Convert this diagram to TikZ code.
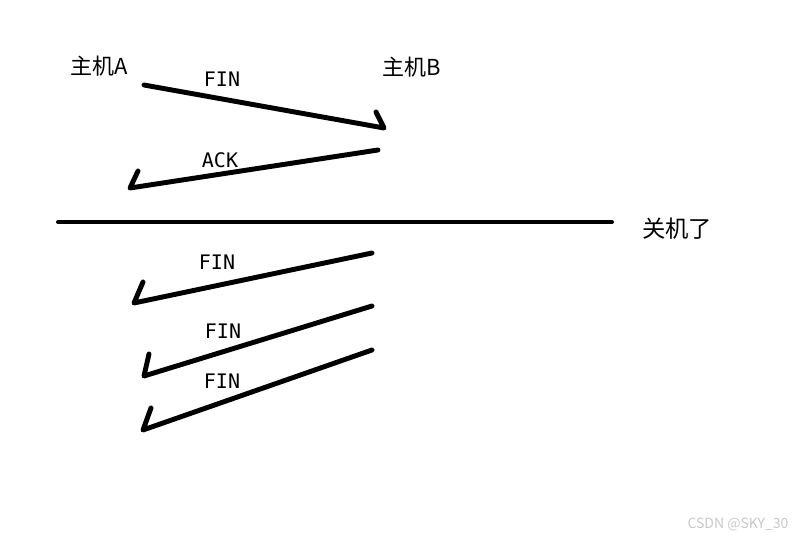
\documentclass[tikz,border=0pt]{standalone}
\usepackage{fontspec}
\setmainfont{Noto Sans CJK SC}
\newfontfamily\pktfont{DejaVu Sans Mono}
\usetikzlibrary{positioning}
\definecolor{marklight}{RGB}{200,200,200}

\tikzset{
  msg/.style={line width=3.7pt, line cap=round, line join=round},
  cut/.style={line width=3pt, line cap=round},
  host/.style={font=\fontsize{16.5}{16.5}\selectfont, inner sep=0pt},
  pkt/.style={font=\pktfont\fontsize{15}{15}\selectfont, inner sep=0pt},
}

\begin{document}
\begin{tikzpicture}[x=0.75pt,y=-0.75pt]
  \useasboundingbox (0,0) rectangle (799,538);
  % hosts
  \node[host] (hostA) at (99,66) {主机A};
  \node[host] (hostB) at (412,67) {主机B};
  % A sends FIN, B answers ACK
  \coordinate (finS) at (144,85);
  \coordinate (finE) at (384,128);
  \coordinate (finB) at (376,112);
  \draw[msg] (finS) -- (finE) -- (finB);
  \node[pkt] (finL) at (222,79) {FIN};
  \coordinate (ackS) at (378,150);
  \coordinate (ackE) at (130,188);
  \coordinate (ackB) at (138,171);
  \draw[msg] (ackS) -- (ackE) -- (ackB);
  \node[pkt] (ackL) at (220,160) {ACK};
  % A goes down
  \coordinate (cutS) at (58,222);
  \coordinate (cutE) at (612,222);
  \draw[cut] (cutS) -- (cutE);
  \node[host, font=\fontsize{17.5}{17.5}\selectfont] (down) at (677,229) {关机了};
  % B keeps sending FIN
  \coordinate (f1S) at (372,253);
  \coordinate (f1E) at (134,303);
  \coordinate (f1B) at (143,282);
  \draw[msg] (f1S) -- (f1E) -- (f1B);
  \node[pkt] (f1L) at (217,262) {FIN};
  \coordinate (f2S) at (372,306);
  \coordinate (f2E) at (144,376);
  \coordinate (f2B) at (149,354);
  \draw[msg] (f2S) -- (f2E) -- (f2B);
  \node[pkt] (f2L) at (223,331) {FIN};
  \coordinate (f3S) at (372,350);
  \coordinate (f3E) at (143,430);
  \coordinate (f3B) at (151,408);
  \draw[msg] (f3S) -- (f3E) -- (f3B);
  \node[pkt] (f3L) at (222,381) {FIN};
  % watermark
  \node[font=\fontsize{10.5}{10.5}\selectfont, text=marklight, inner sep=0pt] (mark) at (738,524) {CSDN @SKY\_30};
\end{tikzpicture}
\end{document}
